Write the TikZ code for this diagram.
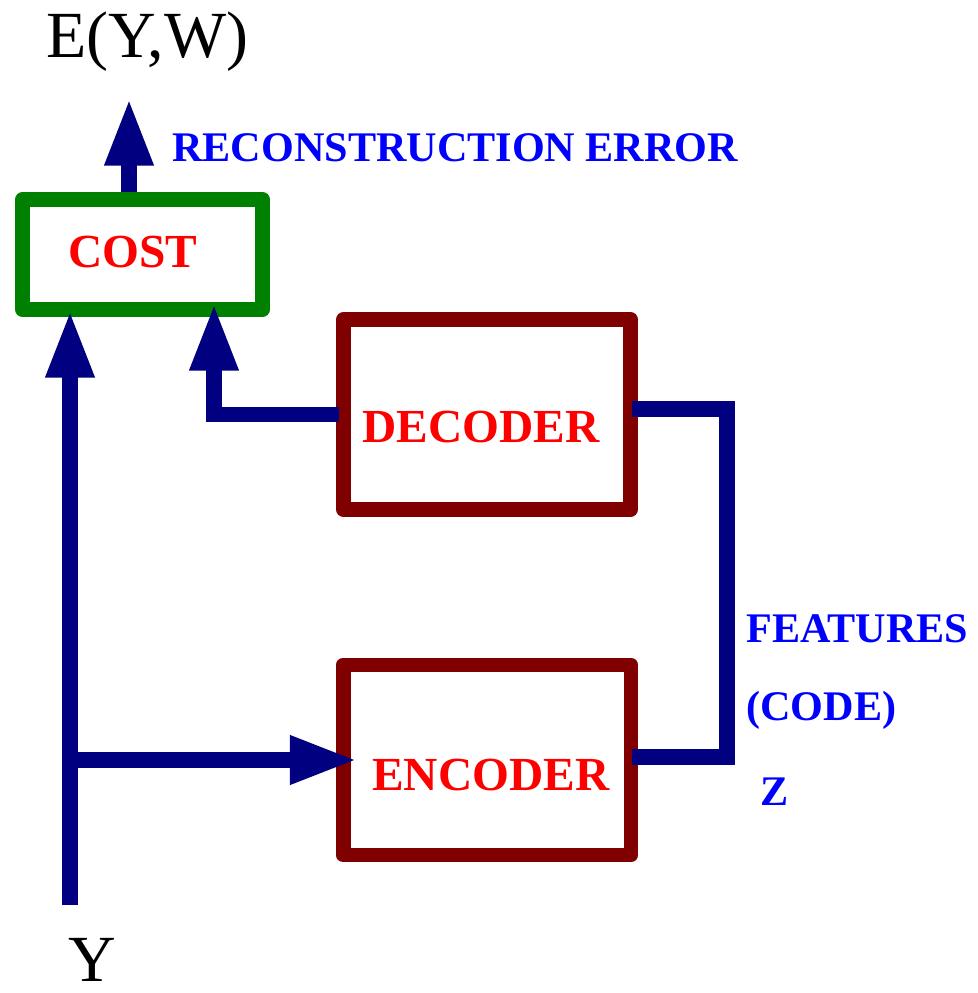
\documentclass[tikz,border=0pt]{standalone}
\usepackage{fontspec}
\setmainfont{Liberation Serif}
\usetikzlibrary{arrows.meta,calc}
\definecolor{navy}{RGB}{0,0,128}
\definecolor{dgreen}{RGB}{0,128,0}
\definecolor{maroon}{RGB}{128,0,0}
\begin{document}
\begin{tikzpicture}[x=0.02cm,y=-0.02cm,
  box/.style={draw, line width=8.5pt, line join=round, inner sep=0pt},
  conn/.style={draw=navy, line width=9pt},
  arr/.style={conn, -{Triangle[length=38.5pt,width=25.5pt]}},
  lbl/.style={font=\fontsize{27}{30}\selectfont\bfseries, text=red, inner sep=0pt, anchor=base west},
  blbl/.style={font=\fontsize{24}{28}\selectfont\bfseries, text=blue, inner sep=0pt, anchor=base west},
  big/.style={font=\fontsize{37.5}{42}\selectfont, inner sep=0pt, anchor=base west}]
\useasboundingbox (0,0) rectangle (977,993);

% boxes
\node[box, draw=dgreen, minimum width=4.8cm, minimum height=2.2cm] (cost) at (142.5,254.5) {};
\node[box, draw=maroon, minimum width=5.74cm, minimum height=3.8cm] (decoder) at (487,414.5) {};
\node[box, draw=maroon, minimum width=5.76cm, minimum height=3.8cm] (encoder) at (487,760) {};

% labels
\node[big] (ename) at (46,58) {E(Y,W)};
\node[blbl] (recerr) at (172,162) {RECONSTRUCTION ERROR};
\node[lbl] (costtxt) at (68,267) {COST};
\node[lbl] (dectxt) at (362,442) {DECODER};
\node[lbl] (enctxt) at (372,790) {ENCODER};
\node[blbl] (feat) at (746,642) {FEATURES};
\node[blbl] (code) at (746,720) {(CODE)};
\node[blbl] (ztxt) at (760,805) {Z};
\node[big] (ytxt) at (68,981) {Y};

% coordinates
\coordinate (etip) at (129,98);
\coordinate (ybot) at (70,905);
\coordinate (ytip) at (70,310);
\coordinate (yjoin) at (70,760);
\coordinate (dtip) at (214,303);
\coordinate (zr) at (727,0);

% connectors
\draw[arr] (cost.north -| etip) -- (etip);
\draw[arr] (ybot) -- (ytip);
\draw[arr] ([xshift=1.7pt]decoder.west) -- (decoder.west -| dtip) -- (dtip);
\draw[arr] (yjoin) -- ([xshift=12.5pt]encoder.west);
\draw[conn] ([xshift=-3.4pt,yshift=3.2pt]decoder.east) -- ([yshift=3.2pt]decoder.east -| zr) -- ([yshift=1.7pt]encoder.east -| zr) -- ([xshift=-3.4pt,yshift=1.7pt]encoder.east);
\end{tikzpicture}
\end{document}
